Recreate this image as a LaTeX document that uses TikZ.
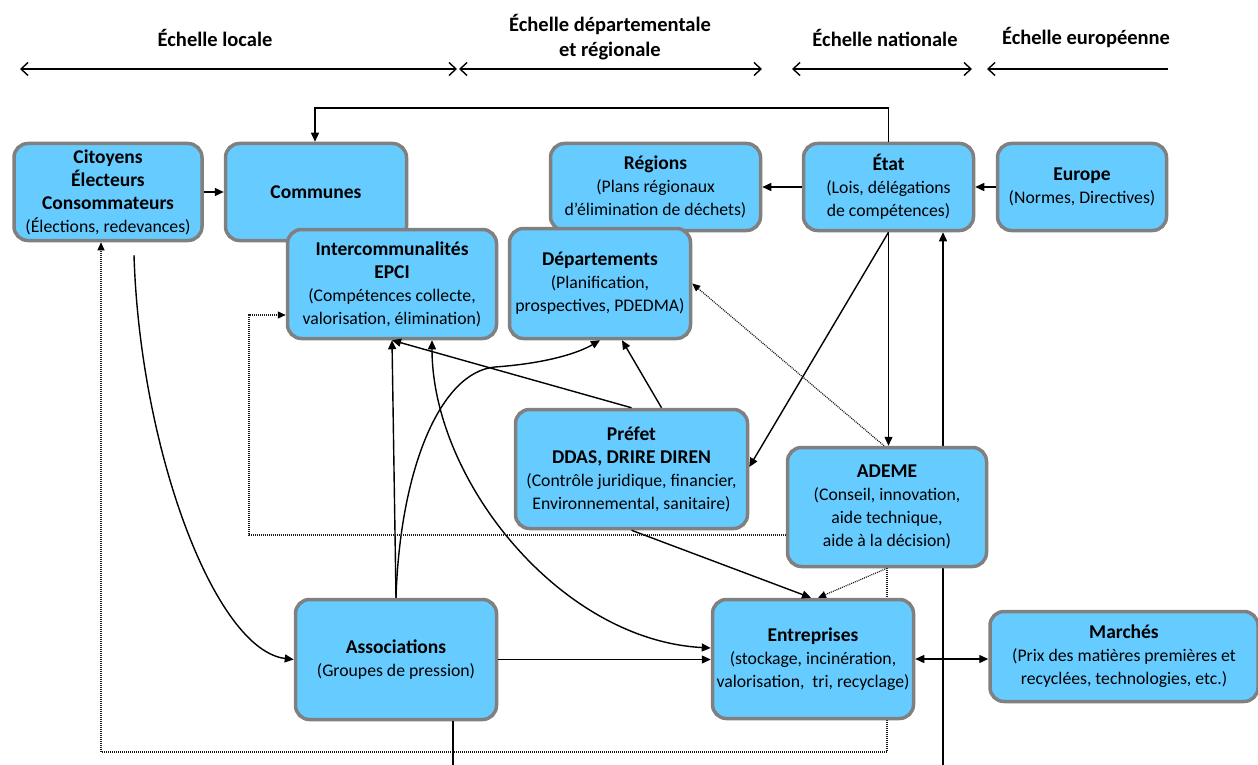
\documentclass[tikz,border=0pt]{standalone}
\usepackage{fontspec}
\setmainfont{Carlito}
\usetikzlibrary{arrows.meta,backgrounds,calc}

\definecolor{boxfill}{HTML}{66CCFF}
\definecolor{boxline}{HTML}{808080}
\definecolor{dotline}{HTML}{1A1A1A}

\newcommand{\actorfont}{\fontsize{17.7}{23}\selectfont}
\newcommand{\actortitle}[1]{{\fontsize{19.5}{23}\selectfont\bfseries #1}}

\tikzset{
  actor/.style={draw=boxline, line width=3.5pt, fill=boxfill, rounded corners=14pt,
    align=center, inner sep=0pt, font=\actorfont, text=black},
  scalelabel/.style={align=center, inner sep=0pt, font=\fontsize{20.5}{25}\selectfont\bfseries},
  scaleline/.style={line width=1.4pt},
  barb/.tip={Straight Barb[length=7pt,width=13pt,line width=1.4pt]},
  arr/.style={line width=1.4pt, -{Triangle[length=9pt,width=8pt]}},
  darr/.style={line width=1.4pt, {Triangle[length=9pt,width=8pt]}-{Triangle[length=9pt,width=8pt]}},
  plain/.style={line width=1.4pt},
  dotarr/.style={line width=1.2pt, draw=dotline, dash pattern=on 1pt off 1pt,
    -{Triangle[length=8pt,width=7pt,color=black,fill=black]}},
}

\begin{document}
\begin{tikzpicture}[x=1pt,y=-1pt]
\useasboundingbox (0,0) rectangle (1258,765);
\clip (0,0) rectangle (1258,765);

% ---- scale headings and their ranges ----
\node[scalelabel] (hloc) at (215,38) {Échelle locale};
\node[scalelabel] (hdep) at (610,37) {Échelle départementale\\et régionale};
\node[scalelabel] (hnat) at (885,38) {Échelle nationale};
\node[scalelabel] (heur) at (1086,38) {Échelle européenne};

\coordinate (s1a) at (20,69);   \coordinate (s1b) at (457,69);
\coordinate (s2a) at (459,69);  \coordinate (s2b) at (762,69);
\coordinate (s3a) at (792,69);  \coordinate (s3b) at (972,69);
\coordinate (s4a) at (987,69);  \coordinate (s4b) at (1168,69);
\draw[scaleline, barb-barb] (s1a) -- (s1b);
\draw[scaleline, barb-barb] (s2a) -- (s2b);
\draw[scaleline, barb-barb] (s3a) -- (s3b);
\draw[scaleline, barb-] (s4a) -- (s4b);

% ---- actors ----
\node[actor, minimum width=188pt, minimum height=97pt] (cit) at (108,192)
  {\actortitle{Citoyens}\\\actortitle{Électeurs}\\\actortitle{Consommateurs}\\(Élections, redevances)};
\node[actor, minimum width=181pt, minimum height=97pt] (com) at (316,192)
  {\actortitle{Communes}};
\node[actor, minimum width=209pt, minimum height=109pt] (inter) at (392,284)
  {\actortitle{Intercommunalités}\\\actortitle{EPCI}\\(Compétences collecte,\\valorisation, élimination)};
\node[actor, minimum width=210pt, minimum height=87pt] (reg) at (655.5,187)
  {\actortitle{Régions}\\(Plans régionaux\\d’élimination de déchets)};
\node[actor, minimum width=181pt, minimum height=110pt] (dep) at (600,283.5)
  {\actortitle{Départements}\\(Planification,\\prospectives, PDEDMA)};
\node[actor, minimum width=170pt, minimum height=87pt] (etat) at (888.5,187)
  {\actortitle{État}\\(Lois, délégations\\de compétences)};
\node[actor, minimum width=169pt, minimum height=87pt] (eur) at (1082,187)
  {\actortitle{Europe}\\(Normes, Directives)};
\node[actor, minimum width=232pt, minimum height=119pt] (pref) at (631.5,469)
  {\actortitle{Préfet}\\\actortitle{DDAS, DRIRE DIREN}\\(Contrôle juridique, financier,\\Environnemental, sanitaire)};
\node[actor, minimum width=199pt, minimum height=119pt] (ademe) at (887,507)
  {\actortitle{ADEME}\\(Conseil, innovation,\\aide technique,\\aide à la décision)};
\node[actor, minimum width=201pt, minimum height=120pt] (asso) at (396,659.5)
  {\actortitle{Associations}\\(Groupes de pression)};
\node[actor, minimum width=201pt, minimum height=119pt] (entr) at (813,659)
  {\actortitle{Entreprises}\\(stockage, incinération,\\valorisation,\ \ tri, recyclage)};
\node[actor, minimum width=268pt, minimum height=90pt] (mar) at (1124,656.5)
  {\actortitle{Marchés}\\(Prix des matières premières et\\recyclées, technologies, etc.)};

% ---- helper coordinates for routed connectors ----
\coordinate (topbar) at (0,108);
\coordinate (lowbar) at (0,752);
\coordinate (midbar) at (0,535);
\coordinate (leftturn) at (249,315);
\coordinate (bottom943) at (943,765);
\coordinate (bottom453) at (453,765);

% ---- connectors running behind boxes ----
\begin{pgfonlayer}{background}
  \draw[arr] (bottom943) -- (bottom943 |- etat.south);
  \draw[dotarr] (ademe.south) -- (ademe.south |- lowbar) -| ([xshift=-7pt]cit.south);
\end{pgfonlayer}

% ---- solid connectors ----
\draw[arr] (etat.north) -- (etat.north |- topbar) -| ([xshift=-1pt]com.north);
\draw[arr] (cit.east) -- (com.west);
\draw[arr] (etat.west) -- (reg.east);
\draw[arr] (eur.west) -- (etat.east);
\draw[arr] (etat.south) -- (etat.south |- ademe.north);
\draw[arr] (etat.south) -- ([yshift=2pt]pref.east);
\draw[arr] (pref.south) -- ([xshift=-2pt]entr.north);
\draw[arr] (pref.north) -- (inter.south);
\draw[arr] ([xshift=30pt]pref.north) -- ([xshift=22pt]dep.south);
\draw[arr] (asso.north) -- (inter.south);
\draw[arr] (asso.north) .. controls (400,470) and (440,372) .. (495,367)
  .. controls (550,363) and (580,352) .. (dep.south);
\draw[arr] ([xshift=26pt,yshift=-13pt]cit.south) .. controls (140,450) and (215,650) .. (asso.west);
\draw[darr] ([xshift=40pt]inter.south) .. controls (432,480) and (560,640) .. ([yshift=11pt]entr.west);
\draw[arr] (asso.east) -- (asso.east -| entr.west);
\draw[plain] (bottom453 |- asso.south) -- (bottom453);
\draw[darr] (entr.east) -- (entr.east -| mar.west);

% ---- dotted connectors ----
\draw[dotarr] ([xshift=-3pt]ademe.north) -- (dep.east);
\draw[dotarr] (ademe.south) -- ([xshift=5pt]entr.north);
\draw[dotarr] (ademe.west |- midbar) -- (leftturn |- midbar) -- (leftturn) -- (leftturn -| inter.west);

\end{tikzpicture}
\end{document}
